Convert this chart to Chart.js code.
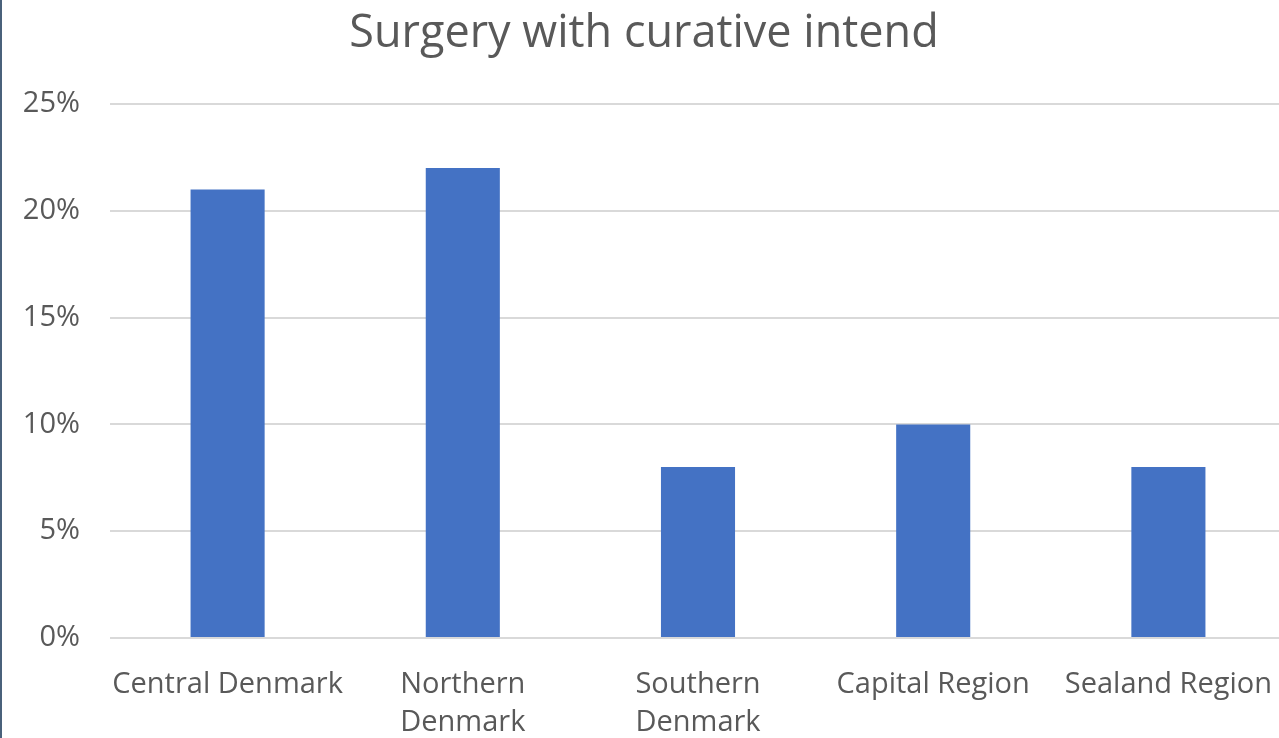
<!DOCTYPE html>
<html>
<head>
<meta charset="utf-8">
<script src="https://cdn.jsdelivr.net/npm/chart.js@4"></script>
<style>
  html, body { margin: 0; padding: 0; overflow: hidden; background: #fff; }
  #edge { position: absolute; left: 0; top: 0; width: 2px; height: 738px; background: #4a617b; }
  #wrap { position: absolute; left: 2px; top: 0; width: 1284px; height: 738px; }
</style>
</head>
<body>
<div id="edge"></div>
<div id="wrap"><canvas id="myChart"></canvas></div>
<script>
// chart data
const regions = ['Central Denmark', ['Northern', 'Denmark'], ['Southern', 'Denmark'], 'Capital Region', 'Sealand Region'];
const surgeryShare = [0.21, 0.22, 0.08, 0.10, 0.08];
const yTicks = [0, 0.05, 0.10, 0.15, 0.20, 0.25];

const textGrey = '#595959';
const fontName = '"Open Sans", Lato, sans-serif';

const ctx = document.getElementById('myChart').getContext('2d');

const myChart = new Chart(ctx, {
    type: 'bar',
    data: {
        labels: regions,
        datasets: [{
            label: 'Surgery with curative intend',
            data: surgeryShare,
            backgroundColor: '#4472c4',
            borderWidth: 0,
            barPercentage: 0.315,
            categoryPercentage: 1
        }]
    },
    options: {
        responsive: true,
        maintainAspectRatio: false,
        animation: false,
        layout: { padding: 0 },
        plugins: {
            legend: { display: false },
            tooltip: { enabled: false },
            title: {
                display: true,
                text: 'Surgery with curative intend',
                color: textGrey,
                font: { family: fontName, size: 45, weight: 'normal', lineHeight: 1.2 },
                padding: { top: 7, bottom: 43 }
            }
        },
        scales: {
            x: {
                grid: { display: false, drawTicks: false },
                border: { display: false },
                ticks: {
                    color: textGrey,
                    font: { family: fontName, size: 29, lineHeight: 1.3 },
                    padding: 28,
                    maxRotation: 0,
                    autoSkip: false
                },
                afterFit: (scale) => {
                    scale.height = 100;
                    // labels may overhang the edges, keep the plot full width
                    scale.paddingLeft = 0;
                    scale.paddingRight = 0;
                }
            },
            y: {
                min: 0,
                max: 0.25,
                afterBuildTicks: (scale) => { scale.ticks = yTicks.map(v => ({ value: v })); },
                grid: { color: '#d9d9d9', lineWidth: 2, drawTicks: false },
                border: { display: false },
                ticks: {
                    color: textGrey,
                    font: { family: fontName, size: 29 },
                    padding: 30,
                    callback: (v) => Math.round(v * 100) + '%'
                },
                afterFit: (scale) => { scale.width = 108; }
            }
        }
    }
});
</script>
</body>
</html>
